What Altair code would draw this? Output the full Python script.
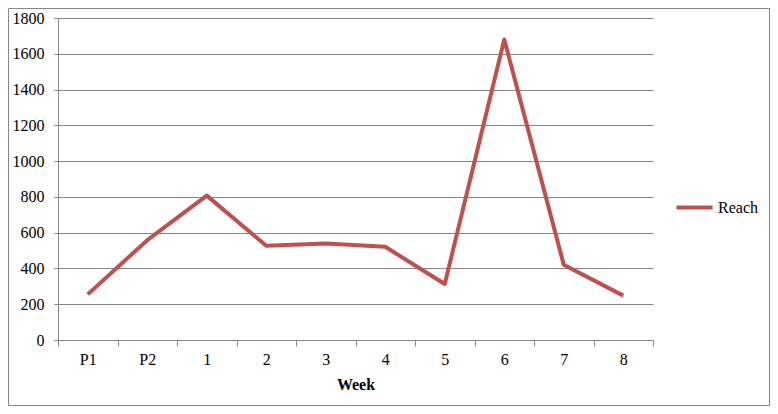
import altair as alt
import pandas as pd

weeks = ["P1", "P2", "1", "2", "3", "4", "5", "6", "7", "8"]
reach = [255, 558, 807, 527, 540, 521, 313, 1680, 421, 248]
series = ["Reach"] * len(weeks)
y_ticks = [0, 200, 400, 600, 800, 1000, 1200, 1400, 1600, 1800]

df = pd.DataFrame({"Week": weeks, "Reach": reach, "Series": series})

FONT = "Liberation Serif"
GRAY = "#868686"
W, H = 595, 322
FS = 16

line = alt.Chart(df).mark_line(strokeWidth=4, strokeJoin="round", strokeCap="butt").encode(
    x=alt.X(
        "Week:N",
        sort=weeks,
        bandPosition=0.5,
        scale=alt.Scale(type="band", paddingInner=0, paddingOuter=0),
        axis=alt.Axis(
            title="Week",
            labelAngle=0,
            tickBand="extent",
            grid=False,
            domainColor=GRAY,
            tickColor=GRAY,
            tickSize=6,
            labelPadding=5,
            labelFont=FONT,
            labelFontSize=FS,
            labelColor="black",
            titleFont=FONT,
            titleFontSize=FS,
            titleFontWeight="bold",
            titleColor="black",
            titlePadding=9,
        ),
    ),
    y=alt.Y(
        "Reach:Q",
        scale=alt.Scale(domain=[0, 1800], nice=False, zero=True),
        axis=alt.Axis(
            title=None,
            values=y_ticks,
            format="d",
            grid=True,
            gridColor=GRAY,
            domainColor=GRAY,
            tickColor=GRAY,
            tickSize=4,
            labelPadding=10,
            labelFont=FONT,
            labelFontSize=FS,
            labelColor="black",
        ),
    ),
    color=alt.Color(
        "Series:N",
        scale=alt.Scale(range=["#C0504D"]),
        legend=alt.Legend(
            title=None,
            orient="none",
            legendX=616,
            legendY=169,
            symbolType="stroke",
            symbolSize=1300,
            symbolStrokeWidth=4,
            labelFont=FONT,
            labelFontSize=FS,
            labelColor="black",
            labelOffset=3,
        ),
    ),
)

border = alt.Chart(pd.DataFrame({"b": [0]})).mark_rect(
    filled=False, stroke=GRAY, strokeWidth=1
).encode(
    x=alt.value(-49.5),
    x2=alt.value(W + 116.5),
    y=alt.value(-9.5),
    y2=alt.value(H + 65.5),
)

chart = alt.layer(border, line).properties(
    width=W,
    height=H,
    autosize=alt.AutoSizeParams(type="none"),
    padding={"left": 50, "top": 10, "right": 117, "bottom": 66},
    background="white",
).configure_view(stroke=None)

chart.save("out.html", embed_options={"renderer": "svg", "actions": False})
